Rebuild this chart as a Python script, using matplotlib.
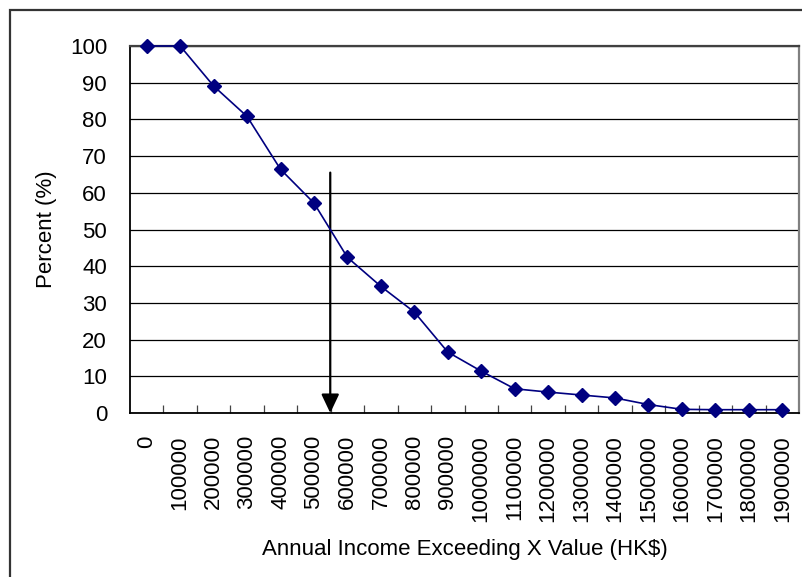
import matplotlib
matplotlib.use("Agg")
import matplotlib.pyplot as plt
import numpy as np
from matplotlib.patches import Rectangle

plt.rcParams["font.family"] = ["Liberation Sans", "DejaVu Sans"]

# income thresholds (HK$) and share of earners above each one
income_levels = [0, 100000, 200000, 300000, 400000, 500000, 600000, 700000,
                 800000, 900000, 1000000, 1100000, 1200000, 1300000, 1400000,
                 1500000, 1600000, 1700000, 1800000, 1900000]
percent_above = [100, 100, 89.1, 80.8, 66.4, 57.2, 42.4, 34.5, 27.5, 16.6,
                 11.4, 6.6, 5.7, 4.9, 4.1, 2.3, 1.0, 0.9, 0.9, 0.9]
y_ticks = list(range(0, 101, 10))
median_level = 50
arrow_top = 65.5

NAVY = "#000080"
FS = 16

fig = plt.figure(figsize=(8.03, 5.77), dpi=100)
W, H = 803, 577

# chart area frame
fig.add_artist(Rectangle((10 / W, -0.1), 1.0, (577 - 10) / H + 0.1,
                         transform=fig.transFigure, fill=False,
                         edgecolor="#333333", linewidth=1.6))

ax = fig.add_axes([130 / W, (H - 413) / H, 669 / W, 367 / H])

pos = np.arange(len(income_levels))
ax.plot(pos, percent_above, color=NAVY, linewidth=1.2, marker="D",
        markersize=7.5, markerfacecolor=NAVY, markeredgecolor=NAVY,
        zorder=5, clip_on=False)

# arrow dropping from the point where the curve crosses 50%
vals = np.array(percent_above)
i = int(np.argmax(vals < median_level))
frac = (vals[i - 1] - median_level) / (vals[i - 1] - vals[i])
x_med = pos[i - 1] + frac
ax.annotate("", xy=(x_med, 0), xytext=(x_med, arrow_top),
            arrowprops=dict(arrowstyle="-|>,head_length=0.95,head_width=0.45",
                            mutation_scale=12, color="black", lw=1.6,
                            shrinkA=0, shrinkB=0), zorder=4)

ax.set_xlim(-0.5, len(income_levels) - 0.5)
ax.set_ylim(0, 100)
ax.set_yticks(y_ticks)
ax.yaxis.grid(True, color="black", linewidth=0.9)
ax.set_axisbelow(True)

ax.set_xticks(pos)
ax.set_xticklabels([str(v) for v in income_levels], rotation=90)
ax.set_xticks(pos[:-1] + 0.5, minor=True)
ax.tick_params(axis="x", which="major", length=0, pad=16, labelsize=FS)
ax.tick_params(axis="x", which="minor", direction="in", length=6,
               width=0.9, color="#444444")
ax.tick_params(axis="y", length=0, pad=16.5, labelsize=FS)

ax.spines["left"].set_color("black")
ax.spines["bottom"].set_color("black")
ax.spines["left"].set_linewidth(1.3)
ax.spines["bottom"].set_linewidth(1.3)
ax.spines["top"].set_color("#404040")
ax.spines["top"].set_linewidth(1.6)
ax.spines["right"].set_color("#808080")
ax.spines["right"].set_linewidth(1.6)

ax.set_ylabel("Percent (%)", fontsize=FS, labelpad=9)
ax.set_xlabel("Annual Income Exceeding X Value (HK$)", fontsize=FS, labelpad=12)

fig.savefig("out.png", dpi=100)
